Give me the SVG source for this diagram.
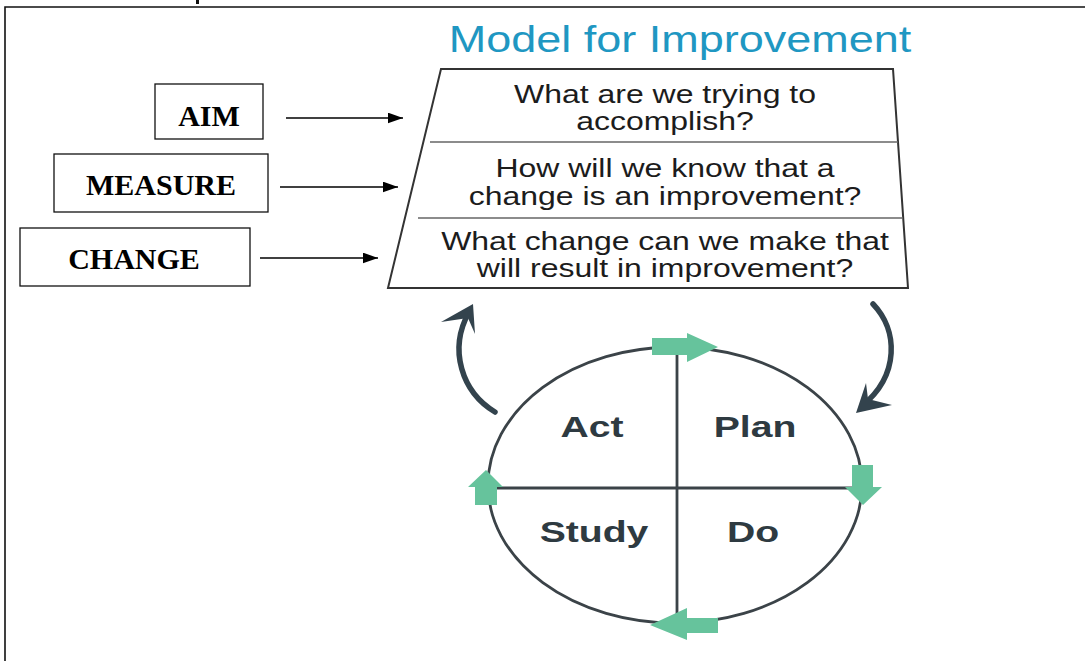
<svg xmlns="http://www.w3.org/2000/svg" width="1085" height="661" viewBox="0 0 1085 661">
  <style>
    .frame { stroke: #111; stroke-width: 1.6; fill: none; }
    .box { fill: #fff; stroke: #111; stroke-width: 1.3; }
    .label { font-family: "Liberation Serif", "Times New Roman", serif; font-weight: bold; font-size: 30px; fill: #000; text-anchor: middle; }
    .link { stroke: #000; stroke-width: 1.6; fill: none; }
    .q { font-family: "Liberation Sans", Arial, sans-serif; font-size: 26px; fill: #1c1c1c; text-anchor: middle; }
    .title { font-family: "Liberation Sans", Arial, sans-serif; font-size: 36px; fill: #1f97c2; text-anchor: middle; }
    .phase { font-family: "Liberation Sans", Arial, sans-serif; font-weight: bold; font-size: 29px; fill: #2e3a41; text-anchor: middle; }
    .ring { stroke: #3b4348; stroke-width: 2.8; fill: none; }
    .step { fill: #66c39c; }
    .loop { stroke: #33434d; stroke-width: 5.5; fill: none; stroke-linecap: round; }
    .loophead { fill: #33434d; }
  </style>
  <defs>
    <marker id="tip" viewBox="0 0 14 10" refX="14" refY="5" markerWidth="15" markerHeight="11" markerUnits="userSpaceOnUse" orient="auto">
      <path d="M0,0 L14,5 L0,10 Z" fill="#000"/>
    </marker>
  </defs>

  <rect width="1085" height="661" fill="#fff"/>

  <!-- page frame (open at right and bottom) -->
  <path class="frame" d="M5,661 V7 H1085"/>
  <rect x="196" y="0" width="3" height="4" fill="#111"/>

  <!-- label boxes -->
  <g id="aim">
    <rect class="box" x="155" y="84" width="108" height="55"/>
    <text class="label" x="209" y="126">AIM</text>
  </g>
  <g id="measure">
    <rect class="box" x="54" y="154" width="214" height="58"/>
    <text class="label" x="161" y="195">MEASURE</text>
  </g>
  <g id="change">
    <rect class="box" x="20" y="228" width="230" height="58"/>
    <text class="label" x="134" y="269">CHANGE</text>
  </g>

  <!-- Model for Improvement questions -->
  <g id="model">
    <text class="title" transform="translate(680,52) scale(1.25,1)" x="0" y="0">Model for Improvement</text>
    <path d="M441,69 H893 L908,288 H388 Z" fill="#fff" stroke="#333" stroke-width="2"/>
    <line x1="430" y1="142" x2="898" y2="142" stroke="#666" stroke-width="1.5"/>
    <line x1="418" y1="218" x2="903" y2="218" stroke="#666" stroke-width="1.5"/>
    <g transform="translate(665,0) scale(1.23,1)">
      <text class="q" x="0" y="103">What are we trying to</text>
      <text class="q" x="0" y="130">accomplish?</text>
      <text class="q" x="0" y="177">How will we know that a</text>
      <text class="q" x="0" y="205">change is an improvement?</text>
      <text class="q" x="0" y="250">What change can we make that</text>
      <text class="q" x="0" y="277">will result in improvement?</text>
    </g>
  </g>

  <!-- PDSA cycle -->
  <g id="pdsa">
    <ellipse class="ring" cx="675" cy="485" rx="187" ry="138"/>
    <line class="ring" x1="677" y1="347" x2="677" y2="620"/>
    <line class="ring" x1="488" y1="488" x2="862" y2="488"/>
    <g transform="translate(592,437) scale(1.35,1)"><text class="phase" x="0" y="0">Act</text></g>
    <g transform="translate(755,437) scale(1.35,1)"><text class="phase" x="0" y="0">Plan</text></g>
    <g transform="translate(594,542) scale(1.35,1)"><text class="phase" x="0" y="0">Study</text></g>
    <g transform="translate(753,542) scale(1.35,1)"><text class="phase" x="0" y="0">Do</text></g>
    <!-- step arrows round the ring -->
    <path class="step" d="M652,338 H687 V333 L718,347 L687,362 V355 H652 Z"/>
    <path class="step" d="M852,465 H873 V487 H882 L863,505 L845,487 H852 Z"/>
    <path class="step" d="M718,618 H687 V608 L650,625 L687,640 V633 H718 Z"/>
    <path class="step" d="M475,505 V487 H468 L486,470 L503,487 H497 V505 Z"/>
  </g>

  <g id="connectors">
    <line class="link" x1="286" y1="118" x2="403" y2="118" marker-end="url(#tip)"/>
    <line class="link" x1="280" y1="187" x2="398" y2="187" marker-end="url(#tip)"/>
    <line class="link" x1="260" y1="258" x2="378" y2="258" marker-end="url(#tip)"/>
    <!-- return loops between the questions and the cycle -->
    <path class="loop" d="M495,412 C462,392 448,350 469,312"/>
    <path class="loophead" d="M473,304 L441,322 L468,318 L475,334 Z"/>
    <path class="loop" d="M873,304 C898,330 900,375 862,406"/>
    <path class="loophead" d="M856,413 L866,383 L868,399 L892,405 Z"/>
  </g>
</svg>
